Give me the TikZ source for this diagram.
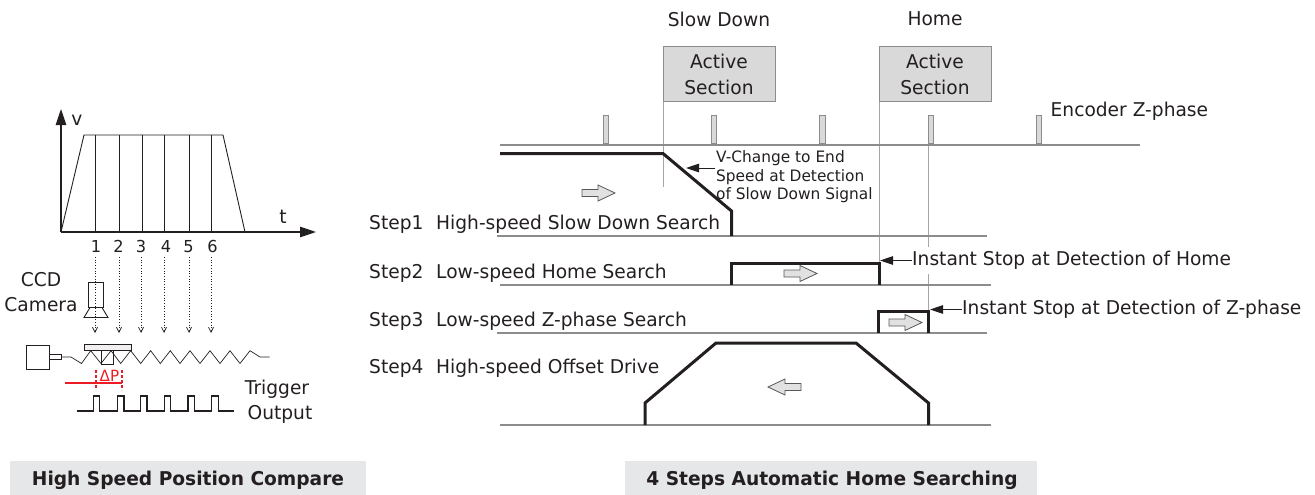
\documentclass[tikz,border=0pt]{standalone}
\usepackage{fontspec}
\setmainfont{DejaVu Sans}[FakeStretch=0.98]
\usetikzlibrary{arrows.meta}
\definecolor{ink}{HTML}{231F20}
\definecolor{rule}{HTML}{8C8C8C}
\definecolor{boxgray}{HTML}{D9D9D9}
\definecolor{bandgray}{HTML}{E6E7E8}
\definecolor{redline}{HTML}{ED1C24}
\tikzset{
  lbl/.style={inner sep=0pt,text=ink,font=\fontsize{19}{22}\selectfont},
  lblc/.style={lbl,anchor=center},
  lbll/.style={lbl,anchor=west},
  small/.style={inner sep=0pt,text=ink,font=\fontsize{15.7}{18}\selectfont,anchor=west},
  base/.style={draw=rule,line width=1.4pt},
  guide/.style={draw=black!35,line width=1pt},
  thick path/.style={draw=ink,line width=3pt,line join=miter},
  tickbox/.style={draw=rule,fill=boxgray,line width=0.8pt},
  active/.style={draw=rule,fill=boxgray,line width=1pt,minimum width=112pt,minimum height=55pt,inner sep=0pt},
  band/.style={fill=bandgray,inner sep=0pt,minimum height=34pt},
  title/.style={inner sep=0pt,text=ink,font=\fontsize{19}{22}\selectfont\bfseries},
  leader/.style={draw=ink,line width=1pt,-{Triangle[length=13pt,width=8.5pt]}},
  hollow/.style={draw=ink!75,fill=boxgray!80,line width=0.8pt},
  axis/.style={draw=ink,line width=1.2pt,-{Triangle[length=16pt,width=10.5pt]}},
  thin/.style={draw=ink,line width=0.7pt},
  dots/.style={draw=ink,line width=0.7pt,dotted,-{Straight Barb[length=5pt,width=5pt]}},
}
\newcommand{\rarrow}[2]{\draw[hollow] (#1-16.5,#2-3.5) -- (#1-0.5,#2-3.5) -- (#1-0.5,#2-8) -- (#1+16.5,#2) -- (#1-0.5,#2+8) -- (#1-0.5,#2+3.5) -- (#1-16.5,#2+3.5) -- cycle;}
\newcommand{\larrow}[2]{\draw[hollow] (#1+16.5,#2-3.5) -- (#1+0.5,#2-3.5) -- (#1+0.5,#2-8) -- (#1-16.5,#2) -- (#1+0.5,#2+8) -- (#1+0.5,#2+3.5) -- (#1+16.5,#2+3.5) -- cycle;}
\newcommand{\steptext}[2]{\makebox[67pt][l]{#1}#2}
\begin{document}
\begin{tikzpicture}[x=1pt,y=-1pt]
\useasboundingbox (0,0) rectangle (1315,495);
% left: velocity profile
\coordinate (o) at (61,232);
\coordinate (vtop) at (61,109);
\coordinate (ttip) at (316,232);
\draw[thin,line width=0.9pt] (o) -- (84,135) -- (223,135) -- (245,232);
\foreach \x in {95,119,142.5,164,189,211} \draw[thin] (\x,135) -- (\x,232);
\draw[axis] (o) -- (vtop);
\draw[axis] (o) -- (ttip);
\node[lblc] (v) at (77,120) {v};
\node[lblc] (t) at (283,217) {t};
\foreach \n/\x/\xx in {1/96/95,2/118.5/119,3/141/141,4/166/164,5/188.5/189,6/212.5/211}{
  \node[inner sep=0pt,text=ink,font=\fontsize{16.5}{18}\selectfont,text height=12pt,text depth=0pt] (n\n) at (\x,246) {\n};
  \draw[dots] (\xx,257) -- (\xx,333);
}
% camera
\node[lblc] (ccd) at (41,280) {CCD};
\node[lblc] (cam) at (41,304.5) {Camera};
\draw[thin,line width=0.9pt] (88.5,282.5) rectangle (103,307.5);
\draw[thin,line width=0.9pt] (90,307.5) -- (102,307.5) -- (108,317.5) -- (84,317.5) -- cycle;
% motor and screw
\draw[thin,line width=0.9pt] (26.5,345) rectangle (49.5,369);
\draw[thin,line width=0.9pt] (49.5,354) rectangle (61,359.5);
\draw[thin] (61,357) -- (71,357) -- (81.5,363.5) -- (90.7,350.7) -- (101,363.5) -- (111,350.7) -- (120.7,363.5) -- (130.7,350.7) -- (140.7,363.5) -- (150.7,350.7) -- (160.3,363.5) -- (170.3,350.7) -- (180,363.5) -- (190,350.7) -- (200,363.5) -- (210,350.7) -- (220,363.5) -- (230,350.7) -- (240,363.5) -- (250,350.7) -- (260,357) -- (269.5,357);
\draw[thin,line width=0.9pt,fill=boxgray!40] (84,344.5) rectangle (131,350.5);
\draw[thin,line width=0.9pt] (101,350.5) rectangle (113.5,364);
% delta P
\draw[redline,line width=1.2pt] (65,383) -- (122,383);
\draw[redline,line width=1.2pt,densely dashed] (96,370) -- (96,390);
\draw[redline,line width=1.2pt,densely dashed] (122,370) -- (122,390);
\node[inner sep=0pt,text=redline,font=\fontsize{15.5}{17}\selectfont] (dp) at (109.5,376) {ΔP};
% trigger
\draw[thin,line width=1.1pt] (76.7,411) -- (93.3,411) -- (93.3,396) -- (99.3,396) -- (99.3,411)
 -- (117.7,411) -- (117.7,396) -- (124,396) -- (124,411)
 -- (140.7,411) -- (140.7,396) -- (147,396) -- (147,411)
 -- (164.7,411) -- (164.7,396) -- (170.7,396) -- (170.7,411)
 -- (188,411) -- (188,396) -- (194.3,396) -- (194.3,411)
 -- (211.3,411) -- (211.3,396) -- (218.3,396) -- (218.3,411) -- (234.3,411);
\node[lblc] (trig) at (277,389) {Trigger};
\node[lblc] (out) at (280,414) {Output};
% bands
\node[band,minimum width=356pt] (b1) at (188,478) {};
\node[title] (t1) at (188,480) {High Speed Position Compare};
\node[band,minimum width=412pt] (b2) at (831,478) {};
\node[title] (t2) at (832,480) {4 Steps Automatic Home Searching};
% right: top
\node[lblc] (sd) at (719,19) {Slow Down};
\node[lblc] (hm) at (935,19) {Home};
\node[active] (a1) at (719,73.8) {};
\node[active] (a2) at (935,73.8) {};
\node[lblc] at (719,61) {Active};
\node[lblc] at (719,87) {Section};
\node[lblc] at (935,61) {Active};
\node[lblc] at (935,87) {Section};
\node[lbll] (enc) at (1050.5,111) {Encoder Z-phase};
\draw[guide] (663,101.5) -- (663,187);
\draw[guide] (879,101.5) -- (879,285);
\draw[guide] (928.5,145) -- (928.5,247);
\draw[guide] (928.5,274) -- (928.5,311);
\foreach \x in {603,711,819.5,928,1036} \draw[tickbox] (\x,115) rectangle (\x+5.5,143.5);
\draw[base] (500,145) -- (1140,145);
\draw[base] (496.7,236) -- (987,236);
\draw[base] (500,285) -- (991,285);
\draw[base] (496.7,333) -- (987,333);
\draw[base] (500,425) -- (991,425);
\draw[thick path] (500,153.5) -- (663,153.5) -- (731.5,211) -- (731.5,236);
\draw[thick path] (731.5,285) -- (731.5,263) -- (879,263) -- (879,285);
\draw[thick path] (878.5,333) -- (878.5,311) -- (928.5,311) -- (928.5,333);
\draw[thick path] (645,425) -- (645,403) -- (716,343) -- (856,343) -- (928.5,403) -- (928.5,425);
\rarrow{598.5}{193}
\rarrow{800.5}{273.5}
\rarrow{905.5}{322.5}
\larrow{784.5}{387}
% notes
\node[small] (vc1) at (716,158.5) {V-Change to End};
\node[small] (vc2) at (716,177) {Speed at Detection};
\node[small] (vc3) at (716,195.5) {of Slow Down Signal};
\coordinate (vcend) at (686,168);
\coordinate (vcstart) at (715,168);
\draw[leader] (vcstart) -- (vcend);
\node[lbll] (s1) at (369,224) {\steptext{Step1}{High-speed Slow Down Search}};
\node[lbll] (s2) at (369,273) {\steptext{Step2}{Low-speed Home Search}};
\node[lbll] (s3) at (369,321.5) {\steptext{Step3}{Low-speed Z-phase Search}};
\node[lbll] (s4) at (369,368) {\steptext{Step4}{High-speed Offset Drive}};
\node[lbll] (i1) at (912,260.5) {Instant Stop at Detection of Home};
\node[lbll] (i2) at (962,309.5) {Instant Stop at Detection of Z-phase};
\coordinate (h1) at (880,260.5);
\coordinate (h2) at (930,309.5);
\draw[leader] (i1.west) -- (h1);
\draw[leader] (i2.west) -- (h2);
\end{tikzpicture}
\end{document}
